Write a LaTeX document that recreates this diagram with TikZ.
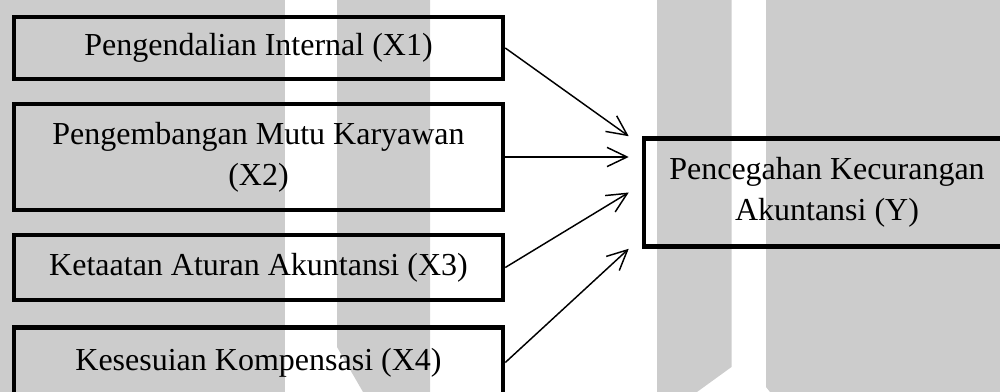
\documentclass[tikz,border=0pt]{standalone}
\usepackage{fontspec}
\setmainfont{Liberation Serif}
\usetikzlibrary{arrows.meta,calc}
\definecolor{band}{RGB}{204,204,204}
\tikzset{
  varbox/.style={draw=black, line width=1.7pt, rectangle, align=center,
    inner sep=0pt, font=\fontsize{12}{15.4}\selectfont},
  link/.style={line width=0.55pt,
    -{Straight Barb[length=7.5pt,width=7.2pt,line width=0.55pt]}},
}
\begin{document}
\begin{tikzpicture}[x=0.375pt,y=-0.375pt]
\useasboundingbox (0,0) rectangle (1000,392);
% background bands
\fill[band] (0,0) -- (285,0) -- (285,392) -- (0,392) -- cycle;
\fill[band] (337,0) -- (430,0) -- (430,392) -- (363,392) -- (337,347) -- cycle;
\fill[band] (657,0) -- (731.5,0) -- (731.5,367) -- (697,392) -- (657,392) -- cycle;
\fill[band] (766,0) -- (1000,0) -- (1000,392) -- (770,392) -- (766,387) -- cycle;
% independent variables
\node[varbox, minimum width=489*0.375pt, minimum height=62*0.375pt] (x1) at (258.5,48) {Pengendalian Internal (X1)};
\node[varbox, minimum width=489*0.375pt, minimum height=106*0.375pt] (x2) at (258.5,157) {Pengembangan Mutu Karyawan\\(X2)};
\node[varbox, minimum width=489*0.375pt, minimum height=65*0.375pt] (x3) at (258.5,267.5) {Ketaatan Aturan Akuntansi (X3)};
\node[varbox, minimum width=489*0.375pt, minimum height=70*0.375pt] (x4) at (258.5,362.5) {Kesesuian Kompensasi (X4)};
% dependent variable
\node[varbox, minimum width=366*0.375pt, minimum height=108*0.375pt] (y) at (827,192.5) {Pencegahan Kecurangan\\Akuntansi (Y)};
% arrow targets just left of the dependent box
\coordinate (t1) at ($(y.north west)+(-13,0)$);
\coordinate (t2) at ($(y.west |- x2.east)+(-13,0)$);
\coordinate (t3) at ($(y.west)+(-13,0)$);
\coordinate (t4) at ($(y.south west)+(-13,0)$);
\draw[link] (x1.east) -- (t1);
\draw[link] (x2.east) -- (t2);
\draw[link] (x3.east) -- (t3);
\draw[link] (x4.east) -- (t4);
\end{tikzpicture}
\end{document}
